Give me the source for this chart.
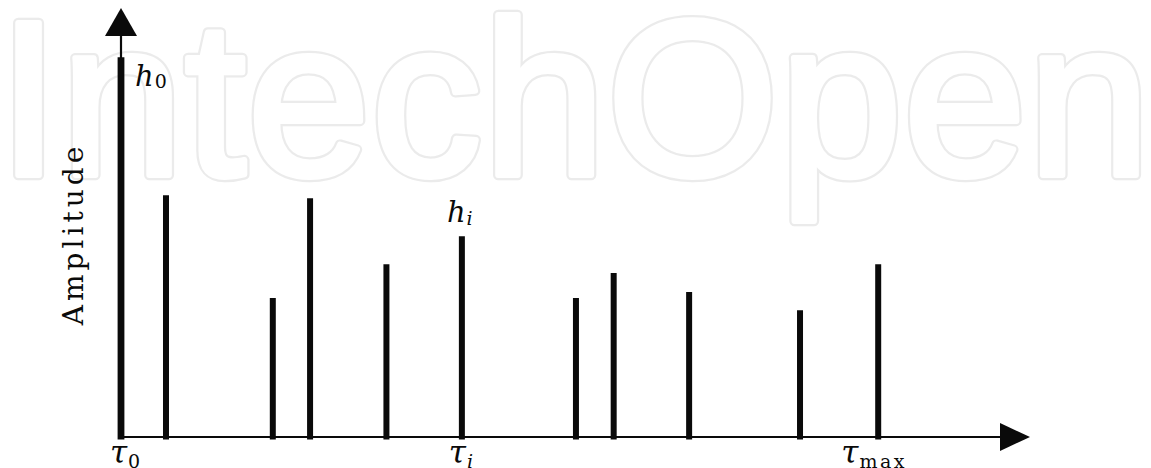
<!DOCTYPE html>
<html>
<head>
<meta charset="utf-8">
<script src="https://cdn.jsdelivr.net/npm/d3@7"></script>
<style>
  html, body { margin: 0; padding: 0; background: #fff; }
  svg { display: block; }
</style>
</head>
<body>
<div id="wrapper"></div>
<script>
// delays (arbitrary units along the time axis) and amplitudes of the taps
const delays = [0, 4.95, 16.7, 20.8, 29.2, 37.5, 50.05, 54.2, 62.5, 74.7, 83.3];
const amplitudes = [1, 0.637, 0.366, 0.629, 0.455, 0.529, 0.366, 0.432, 0.382, 0.334, 0.455];
const tickDelays = [0, 37.5, 83.3];
const tickMain = ["τ", "τ", "τ"];
const tickSubs = ["0", "i", "max"];
const xMaxUnits = 100;
const yMaxUnits = 1.13;

function drawChart() {
  const dimensions = {
    width: 1151,
    height: 468,
    margin: { top: 8, right: 121, bottom: 31, left: 121 },
  };
  dimensions.boundedWidth =
    dimensions.width - dimensions.margin.left - dimensions.margin.right;
  dimensions.boundedHeight =
    dimensions.height - dimensions.margin.top - dimensions.margin.bottom;

  const wrapper = d3
    .select("#wrapper")
    .append("svg")
    .attr("width", dimensions.width)
    .attr("height", dimensions.height);

  // background watermark: grey outer band, then white to hollow it out
  const mark = wrapper.append("g");
  [
    { stroke: "#ebebeb", width: 10.5 },
    { stroke: "#ffffff", width: 6 },
  ].forEach((layer) => {
    mark
      .append("text")
      .attr("x", -2)
      .attr("y", 175)
      .attr("textLength", 1152)
      .attr("lengthAdjust", "spacing")
      .text("IntechOpen")
      .attr("fill", "#fff")
      .attr("stroke", layer.stroke)
      .attr("stroke-width", layer.width)
      .attr("stroke-linejoin", "round")
      .style("font-family", "'Liberation Sans', Arial, sans-serif")
      .style("font-size", "220px");
  });

  const bounds = wrapper
    .append("g")
    .attr("transform", `translate(${dimensions.margin.left},${dimensions.margin.top})`);

  const xScale = d3
    .scaleLinear()
    .domain([0, xMaxUnits])
    .range([0, dimensions.boundedWidth]);

  const yScale = d3
    .scaleLinear()
    .domain([0, yMaxUnits])
    .range([dimensions.boundedHeight, 0]);

  const ink = "#0a0a0a";
  const y0 = yScale(0);

  // axes with arrow heads
  const arrowLen = 30;
  const arrowHalf = 14;
  const xEnd = xScale(xMaxUnits);
  bounds
    .append("line")
    .attr("x1", 0)
    .attr("x2", xEnd - arrowLen + 2)
    .attr("y1", y0)
    .attr("y2", y0)
    .attr("stroke", ink)
    .attr("stroke-width", 2.2);
  bounds
    .append("path")
    .attr("d", `M${xEnd},${y0} L${xEnd - arrowLen},${y0 - arrowHalf} L${xEnd - arrowLen},${y0 + arrowHalf} Z`)
    .attr("fill", ink);

  const yEnd = yScale(yMaxUnits);
  bounds
    .append("line")
    .attr("x1", 0)
    .attr("x2", 0)
    .attr("y1", y0)
    .attr("y2", yEnd + 27)
    .attr("stroke", ink)
    .attr("stroke-width", 2.2);
  bounds
    .append("path")
    .attr("d", `M0,${yEnd} L${-16},${yEnd + 28} L16,${yEnd + 28} Z`)
    .attr("fill", ink);

  // taps
  const taps = delays.map((d, i) => ({ delay: d, amp: amplitudes[i], idx: i }));
  bounds
    .append("g")
    .selectAll("line")
    .data(taps)
    .join("line")
    .attr("x1", (d) => xScale(d.delay))
    .attr("x2", (d) => xScale(d.delay))
    .attr("y1", y0 + 2.5)
    .attr("y2", (d) => yScale(d.amp))
    .attr("stroke", ink)
    .attr("stroke-width", (d) => (d.idx === 0 ? 6.8 : 6));

  const mathFont = "'DejaVu Serif', 'Liberation Serif', serif";

  // tap labels
  const h0 = bounds
    .append("text")
    .attr("x", xScale(0) + 14)
    .attr("y", yScale(amplitudes[0]) + 29)
    .style("font-family", mathFont)
    .attr("fill", ink);
  h0.append("tspan").text("h").style("font-style", "italic").style("font-size", "29px");
  h0.append("tspan").text("0").attr("dy", 2).attr("dx", 1).style("font-size", "19px");

  const hi = bounds
    .append("text")
    .attr("x", xScale(delays[5]) - 15)
    .attr("y", yScale(amplitudes[5]) - 14)
    .style("font-family", mathFont)
    .attr("fill", ink);
  hi.append("tspan").text("h").style("font-style", "italic").style("font-size", "29px");
  hi.append("tspan").text("i").attr("dy", 3).attr("dx", 1).style("font-style", "italic").style("font-size", "19px");

  // tick labels
  const tickOffsets = [4, -1, -4];
  const ticks = bounds
    .append("g")
    .selectAll("text")
    .data(tickDelays)
    .join("text")
    .attr("x", (d, i) => xScale(d) + tickOffsets[i])
    .attr("y", y0 + 26)
    .attr("text-anchor", "middle")
    .style("font-family", mathFont)
    .attr("fill", ink);
  ticks
    .append("tspan")
    .text((d, i) => tickMain[i])
    .style("font-style", "italic")
    .style("font-size", "31px");
  ticks
    .append("tspan")
    .text((d, i) => tickSubs[i])
    .attr("dy", 5)
    .attr("dx", 1)
    .style("font-style", (d, i) => (i === 1 ? "italic" : "normal"))
    .style("letter-spacing", (d, i) => (i === 2 ? "2.5px" : "0px"))
    .style("font-size", "19px");

  // y axis label
  bounds
    .append("text")
    .attr("transform", `translate(${-38},${(140 + 328) / 2 - dimensions.margin.top}) rotate(-90)`)
    .attr("text-anchor", "middle")
    .text("Amplitude")
    .style("font-family", mathFont)
    .style("font-size", "28px")
    .style("letter-spacing", "4px")
    .attr("fill", ink);
}
drawChart();
</script>
</body>
</html>
